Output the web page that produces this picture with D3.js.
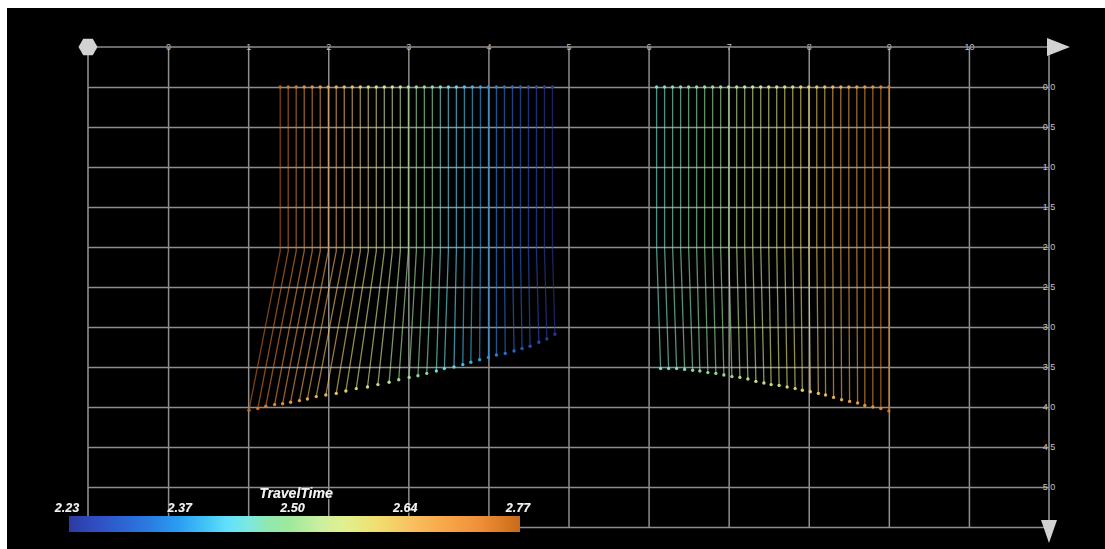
<!DOCTYPE html>
<html>
<head>
<meta charset="utf-8">
<script src="https://cdn.jsdelivr.net/npm/d3@7"></script>
<style>
  html, body { margin: 0; padding: 0; background: #ffffff; }
  svg { display: block; }
  text { font-family: "Liberation Sans", Arial, sans-serif; }
</style>
</head>
<body>
<svg id="chart" width="1105" height="549"></svg>
<script>
// ---- data ---------------------------------------------------------------
// Left fan of rays: surface position, point on the dipping reflector, travel time
const leftTopX = [1.4,1.5,1.6,1.7,1.8,1.9,2.0,2.1,2.2,2.3,2.4,2.5,2.6,2.7,2.8,2.9,3.0,3.1,3.2,3.3,3.4,3.5,3.6,3.7,3.8,3.9,4.0,4.1,4.2,4.3,4.4,4.5,4.6,4.7,4.8];
const leftBotX = [1.01,1.12,1.22,1.33,1.43,1.53,1.64,1.74,1.85,1.97,2.10,2.22,2.35,2.49,2.62,2.76,2.88,3.01,3.12,3.23,3.35,3.45,3.57,3.68,3.78,3.89,4.00,4.10,4.21,4.32,4.42,4.52,4.63,4.73,4.83];
const leftBotY = [4.04,4.02,3.99,3.97,3.96,3.94,3.92,3.90,3.87,3.85,3.83,3.80,3.77,3.75,3.72,3.69,3.66,3.63,3.61,3.58,3.55,3.52,3.50,3.47,3.44,3.41,3.38,3.35,3.33,3.30,3.27,3.24,3.19,3.15,3.09];
const leftTime = [2.77,2.75,2.74,2.72,2.71,2.69,2.67,2.66,2.64,2.63,2.61,2.59,2.58,2.56,2.55,2.53,2.51,2.50,2.48,2.47,2.45,2.43,2.42,2.40,2.39,2.37,2.35,2.34,2.32,2.31,2.29,2.27,2.26,2.24,2.23];
const leftKinkDepth = 2.05;

// Right fan of rays
const rightTopX = [6.1,6.2,6.3,6.4,6.5,6.6,6.7,6.8,6.9,7.0,7.1,7.2,7.3,7.4,7.5,7.6,7.7,7.8,7.9,8.0,8.1,8.2,8.3,8.4,8.5,8.6,8.7,8.8,8.9,9.0];
const rightBotX = [6.15,6.25,6.35,6.45,6.55,6.64,6.74,6.84,6.94,7.04,7.14,7.24,7.34,7.44,7.53,7.63,7.73,7.83,7.92,8.02,8.12,8.21,8.31,8.41,8.51,8.61,8.70,8.80,8.90,9.00];
const rightBotY = [3.52,3.52,3.52,3.53,3.54,3.55,3.57,3.58,3.60,3.62,3.63,3.65,3.68,3.70,3.72,3.73,3.75,3.77,3.79,3.81,3.83,3.85,3.88,3.91,3.93,3.95,3.98,4.00,4.02,4.05];
const rightTime = [2.45,2.455,2.46,2.465,2.47,2.48,2.485,2.49,2.50,2.51,2.52,2.53,2.54,2.55,2.56,2.57,2.58,2.59,2.60,2.61,2.62,2.63,2.645,2.66,2.67,2.68,2.70,2.71,2.73,2.75];
const rightKinkDepth = 2.0;

// Axes
const xTicks = [0,1,2,3,4,5,6,7,8,9,10];
const yTicks = [0,0.5,1,1.5,2,2.5,3,3.5,4,4.5,5,5.5];
const yTickLabels = ["0.0","0.5","1.0","1.5","2.0","2.5","3.0","3.5","4.0","4.5","5.0",""];

// Colour legend
const timeDomain = [2.23, 2.77];
const legendTicks = [2.23, 2.365, 2.50, 2.635, 2.77];
const legendTickLabels = ["2.23","2.37","2.50","2.64","2.77"];
const legendTitle = "TravelTime";
const colorStops = [0, 0.05, 0.17, 0.24, 0.31, 0.35, 0.40, 0.44, 0.49, 0.56, 0.61, 0.68, 0.76, 0.83, 0.91, 1];
const colorValues = ["#2b3a9f","#2f4bc0","#2a78e0","#2a9cf0","#45c8f8","#62e0fa","#7ce8e0","#90e8b0","#a0e89c","#ccf0a0","#e0f090","#f0e070","#f8c060","#f8a848","#f09038","#c86a18"];

// ---- drawing ------------------------------------------------------------
const svg = d3.select("#chart");

svg.append("rect").attr("x", 7).attr("y", 8).attr("width", 1098).attr("height", 541).attr("fill", "#000");

const x = d3.scaleLinear().domain([-1, 11]).range([88, 1049]);
const y = d3.scaleLinear().domain([-0.5, 5.5]).range([47, 527]);

const ramp = d3.scaleLinear().domain(colorStops).range(colorValues).interpolate(d3.interpolateRgb);
const color = v => ramp((v - timeDomain[0]) / (timeDomain[1] - timeDomain[0]));

const gridColor = "#8e8e8e";
const labelColor = "#c4c4c4";

// vertical grid + top labels
const gx = svg.append("g").attr("transform", `translate(0,${y(-0.5)})`)
  .call(d3.axisTop(x).tickValues(xTicks).tickSize(-(y(5.5) - y(-0.5))).tickFormat(d3.format("d")));
gx.select(".domain").remove();
gx.selectAll(".tick line").attr("stroke", gridColor).attr("stroke-width", 1.5);
gx.selectAll(".tick text").attr("y", 0).attr("dy", "0.35em").attr("fill", labelColor)
  .attr("font-size", 9).attr("font-family", "Liberation Sans, Arial, sans-serif");

// horizontal grid + right labels
const gy = svg.append("g").attr("transform", `translate(${x(11)},0)`)
  .call(d3.axisRight(y).tickValues(yTicks).tickSize(-(x(11) - x(-1))).tickFormat((d, i) => yTickLabels[i]));
gy.select(".domain").remove();
gy.selectAll(".tick line").attr("stroke", gridColor).attr("stroke-width", 1.5);
gy.selectAll(".tick text").attr("x", 0).attr("text-anchor", "middle").attr("fill", labelColor)
  .attr("font-size", 9).attr("font-family", "Liberation Sans, Arial, sans-serif");

// axis lines
const axisG = svg.append("g").attr("stroke", gridColor).attr("stroke-width", 1.6);
axisG.append("line").attr("x1", x(-1)).attr("x2", x(11) - 2).attr("y1", y(-0.5)).attr("y2", y(-0.5));
axisG.append("line").attr("x1", x(-1)).attr("x2", x(-1)).attr("y1", y(-0.5)).attr("y2", y(5.5));
axisG.append("line").attr("x1", x(11)).attr("x2", x(11)).attr("y1", y(-0.5)).attr("y2", y(5.5));

// end markers: hexagon at origin corner, arrows at axis ends
const hexR = 9.5;
const hex = d3.range(6).map(k => {
  const a = Math.PI / 3 * k;
  return [x(-1) + hexR * Math.cos(a), y(-0.5) + hexR * Math.sin(a)];
});
svg.append("polygon").attr("points", hex.map(p => p.join(",")).join(" ")).attr("fill", "#d2d2d2");
svg.append("polygon")
  .attr("points", [[x(11) - 2, y(-0.5) - 9], [x(11) - 2, y(-0.5) + 9], [x(11) + 21, y(-0.5)]].map(p => p.join(",")).join(" "))
  .attr("fill", "#d2d2d2");
svg.append("polygon")
  .attr("points", [[x(11) - 8, y(5.5) - 7], [x(11) + 8, y(5.5) - 7], [x(11), y(5.5) + 16]].map(p => p.join(",")).join(" "))
  .attr("fill", "#d2d2d2");

// rays
const rays = [];
leftTopX.forEach((tx, i) => rays.push({
  pts: [[tx, 0], [tx, leftKinkDepth], [leftBotX[i], leftBotY[i]]], t: leftTime[i]
}));
rightTopX.forEach((tx, i) => rays.push({
  pts: [[tx, 0], [tx, rightKinkDepth], [rightBotX[i], rightBotY[i]]], t: rightTime[i]
}));

const line = d3.line().x(d => x(d[0])).y(d => y(d[1]));
const rayG = svg.append("g");
rayG.selectAll("path").data(rays).join("path")
  .attr("d", d => line(d.pts))
  .attr("fill", "none")
  .attr("stroke", d => color(d.t))
  .attr("stroke-opacity", 0.62)
  .attr("stroke-width", 1.3);

const ends = rays.flatMap(r => [{ p: r.pts[0], t: r.t }, { p: r.pts[r.pts.length - 1], t: r.t }]);
rayG.selectAll("circle").data(ends).join("circle")
  .attr("cx", d => x(d.p[0])).attr("cy", d => y(d.p[1])).attr("r", 1.7)
  .attr("fill", d => color(d.t)).attr("fill-opacity", 0.9);

// colour legend
const lx = d3.scaleLinear().domain(timeDomain).range([69, 520]);
const grad = svg.append("defs").append("linearGradient").attr("id", "tt-grad")
  .attr("x1", "0%").attr("x2", "100%").attr("y1", "0%").attr("y2", "0%");
grad.selectAll("stop").data(colorStops).join("stop")
  .attr("offset", d => (d * 100) + "%")
  .attr("stop-color", (d, i) => colorValues[i]);

svg.append("rect").attr("x", lx(timeDomain[0])).attr("y", 516)
  .attr("width", lx(timeDomain[1]) - lx(timeDomain[0])).attr("height", 16)
  .attr("fill", "url(#tt-grad)");

const shadow = svg.select("defs").append("filter").attr("id", "txt-shadow");
shadow.append("feDropShadow").attr("dx", 1).attr("dy", 1).attr("stdDeviation", 0.6)
  .attr("flood-color", "#000").attr("flood-opacity", 0.9);

svg.append("g").selectAll("text").data(legendTicks).join("text")
  .attr("x", d => lx(d) - 2).attr("y", 512)
  .attr("text-anchor", "middle")
  .attr("font-size", 12.5).attr("font-style", "italic").attr("font-weight", "bold")
  .attr("fill", "#f2f2f2").attr("filter", "url(#txt-shadow)")
  .text((d, i) => legendTickLabels[i]);

svg.append("text").attr("x", 296).attr("y", 498).attr("text-anchor", "middle")
  .attr("font-size", 14).attr("font-style", "italic").attr("font-weight", "bold")
  .attr("fill", "#f2f2f2").attr("filter", "url(#txt-shadow)")
  .text(legendTitle);
</script>
</body>
</html>
